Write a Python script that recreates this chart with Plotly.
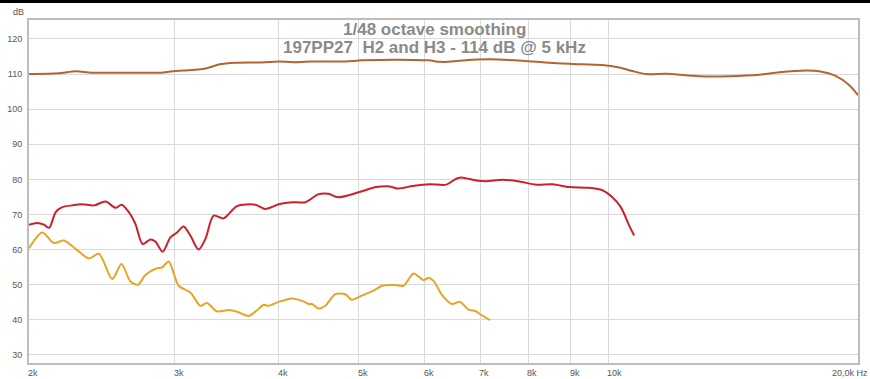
import math
import plotly.graph_objects as go

# Fundamental (brown), 2nd harmonic (red), 3rd harmonic (orange); frequency in Hz, level in dB
fund_freq = [2000, 2173, 2277, 2382, 2639, 2891, 3006, 3073, 3267, 3387, 3551, 3816, 4001,
             4196, 4386, 4817, 5037, 5535, 6068, 6257, 6414, 6613, 7187, 7875, 8486, 9045,
             9826, 10300, 10680, 11110, 11740, 12870, 13990, 15200, 16070, 17310, 17950,
             18820, 19510, 20000]
fund_db = [110.0, 110.2, 110.8, 110.4, 110.4, 110.4, 110.9, 111.0, 111.6, 112.7, 113.2, 113.3,
           113.6, 113.4, 113.6, 113.6, 113.9, 114.1, 113.9, 113.5, 113.5, 113.8, 114.2, 113.8,
           113.2, 112.9, 112.6, 111.9, 110.9, 110.0, 110.1, 109.4, 109.4, 109.8, 110.5, 111.0,
           110.8, 109.4, 106.9, 104.0]

h2_freq = [2000, 2046, 2085, 2115, 2154, 2194, 2255, 2318, 2396, 2474, 2544, 2586, 2639, 2688,
           2742, 2802, 2841, 2899, 2962, 3017, 3073, 3131, 3203, 3264, 3340, 3434, 3564, 3750,
           3856, 4001, 4153, 4310, 4470, 4596, 4717, 5009, 5246, 5444, 5570, 5808, 6085, 6374,
           6552, 6674, 6927, 7121, 7456, 7810, 8179, 8564, 8970, 9479, 9833, 10110, 10350,
           10590, 10740]
h2_db = [67.1, 67.6, 67.1, 66.2, 70.7, 72.1, 72.6, 72.9, 72.6, 73.7, 71.9, 72.8, 70.7, 67.3,
         61.6, 62.9, 62.3, 59.4, 63.5, 64.9, 66.6, 64.0, 60.0, 63.0, 69.7, 68.9, 72.4, 72.8,
         71.6, 72.9, 73.5, 73.5, 75.8, 75.9, 74.9, 76.4, 77.8, 78.0, 77.4, 78.1, 78.6, 78.5,
         80.2, 80.5, 79.7, 79.5, 79.9, 79.4, 78.5, 78.6, 77.8, 77.6, 76.9, 74.9, 72.1, 66.9,
         64.0]

h3_freq = [2000, 2075, 2143, 2204, 2277, 2362, 2429, 2520, 2586, 2651, 2707, 2763, 2853, 2893,
           2948, 3031, 3131, 3219, 3279, 3371, 3483, 3564, 3681, 3784, 3837, 3891, 4001, 4153,
           4270, 4349, 4389, 4470, 4555, 4682, 4814, 4903, 5040, 5208, 5329, 5531, 5660, 5820,
           5984, 6068, 6153, 6297, 6473, 6623, 6780, 6908, 7035, 7200]
h3_db = [60.4, 64.9, 61.9, 62.6, 60.2, 57.5, 58.8, 51.6, 55.9, 50.9, 50.0, 52.8, 54.7, 54.9,
         56.6, 49.7, 47.8, 44.0, 44.8, 42.4, 42.8, 42.3, 41.1, 43.1, 44.3, 44.0, 45.1, 46.1,
         45.4, 44.5, 44.5, 43.2, 44.0, 47.3, 47.3, 45.7, 46.9, 48.3, 49.7, 49.9, 49.7, 53.2,
         51.3, 52.0, 51.1, 47.1, 44.5, 45.1, 42.9, 42.5, 41.3, 39.9]

x_tick_vals = [2000, 3000, 4000, 5000, 6000, 7000, 8000, 9000, 10000]
x_tick_text = ["2k", "3k", "4k", "5k", "6k", "7k", "8k", "9k", "10k"]
y_tick_vals = [30, 40, 50, 60, 70, 80, 90, 100, 110, 120]

title_lines = ["1/48 octave smoothing", "197PP27  H2 and H3 - 114 dB @ 5 kHz"]

W, H = 870, 379
L, R, T, B = 29, 12, 20, 16
plot_h = H - T - B
plot_w = W - L - R


def py(p):
    """pixel row -> paper y"""
    return (H - B - p) / plot_h


def px(p):
    """pixel column -> paper x"""
    return (p - L) / plot_w


FONT = "Liberation Sans, Arial, sans-serif"

fig = go.Figure()
for fx, fy, col in [(fund_freq, fund_db, "#b4642f"),
                    (h2_freq, h2_db, "#c8222b"),
                    (h3_freq, h3_db, "#e8a428")]:
    fig.add_trace(go.Scatter(x=fx, y=fy, mode="lines",
                             line=dict(color=col, width=2, shape="spline", smoothing=0.8),
                             hoverinfo="skip", showlegend=False))

annotations = []
for ln, yp in zip(title_lines, [30, 48]):
    annotations.append(dict(text="<b>" + ln + "</b>", xref="paper", yref="paper",
                            x=px(434), y=py(yp), xanchor="center", yanchor="middle",
                            showarrow=False, font=dict(family=FONT, size=17, color="#8a8a8a")))
for v, t in zip(x_tick_vals, x_tick_text):
    annotations.append(dict(text=t, xref="x", yref="paper", x=math.log10(v), y=py(373),
                            xanchor="left", yanchor="middle", xshift=-3, showarrow=False,
                            font=dict(family=FONT, size=9, color="#555555")))
annotations.append(dict(text="20,0k Hz", xref="paper", yref="paper", x=px(870), y=py(373),
                        xanchor="right", yanchor="middle", showarrow=False,
                        font=dict(family=FONT, size=9, color="#555555")))
annotations.append(dict(text="dB", xref="paper", yref="paper", x=px(26), y=py(12),
                        xanchor="right", yanchor="middle", showarrow=False,
                        font=dict(family=FONT, size=9, color="#555555")))

fig.update_layout(
    template="none",
    width=W, height=H,
    margin=dict(l=L, r=R, t=T, b=B, pad=0),
    paper_bgcolor="white", plot_bgcolor="white",
    annotations=annotations,
    shapes=[dict(type="rect", xref="paper", yref="paper", x0=px(0), x1=px(W),
                 y0=py(3), y1=py(0), fillcolor="black", line=dict(width=0), layer="above")],
    xaxis=dict(type="log", range=[math.log10(2000), math.log10(20000)], automargin=False,
               tickvals=x_tick_vals + [20000], showticklabels=False,
               showgrid=True, gridcolor="#d9d9d9", gridwidth=1, zeroline=False,
               showline=True, linecolor="#bdbdbd", linewidth=2, mirror=True, ticks=""),
    yaxis=dict(range=[27.7, 125.4], tickvals=y_tick_vals, automargin=False,
               tickfont=dict(family=FONT, size=9, color="#555555"),
               showgrid=True, gridcolor="#d9d9d9", gridwidth=1, zeroline=False,
               showline=True, linecolor="#bdbdbd", linewidth=2, mirror=True, ticks="",
               ticklabelstandoff=3),
)

fig.write_html("out.html")
